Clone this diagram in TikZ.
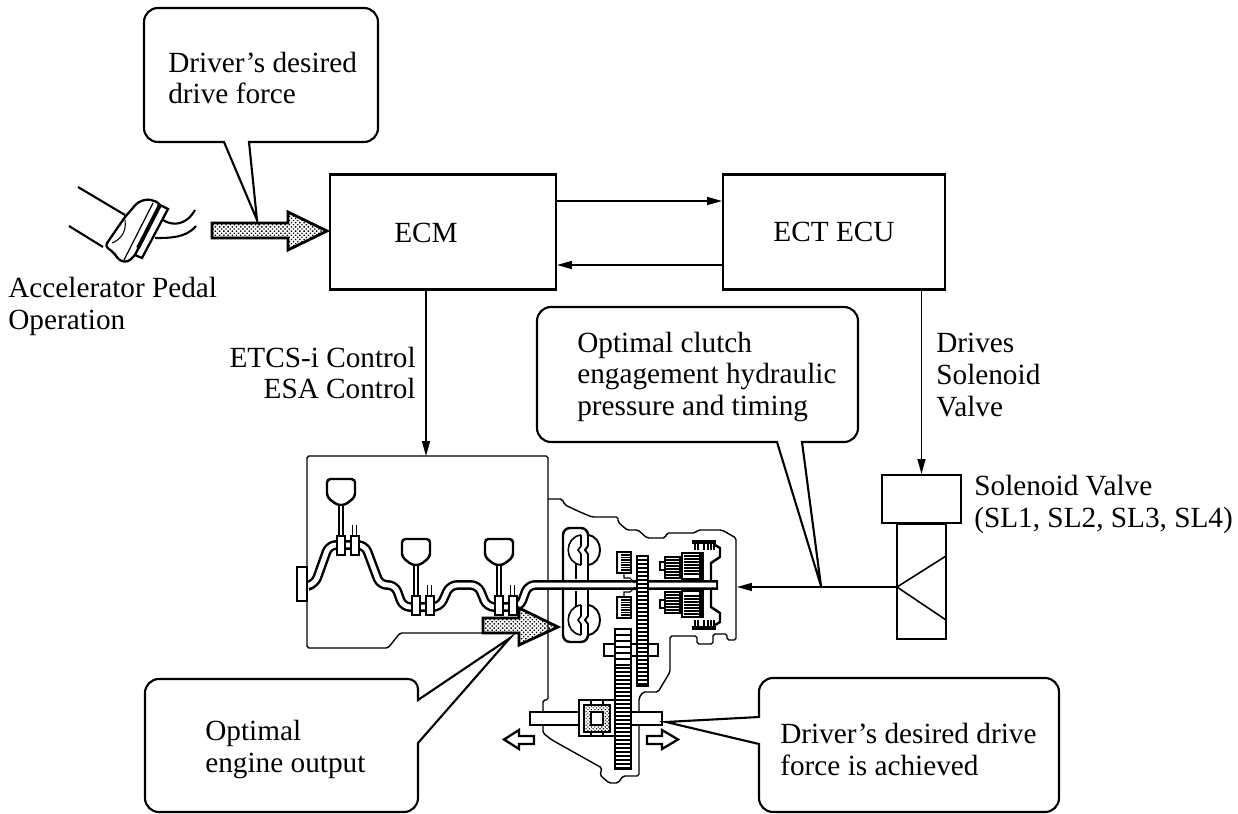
\documentclass[tikz,border=0pt]{standalone}
\usepackage{fontspec}
\setmainfont{Liberation Serif}
\usetikzlibrary{arrows.meta,calc,patterns.meta}
\tikzset{
  flow/.style={-{Stealth[length=8.5pt,width=4.6pt,inset=0pt]}, line width=0.7pt},
  ctrl box/.style={draw, line width=1.2pt, inner sep=0pt, fill=white},
  label text/.style={inner sep=0pt, align=left, anchor=west, font=\fontsize{16.65}{18.2}\selectfont},
  callout/.style={draw, line width=1.2pt, fill=white},
  fat arrow/.style={draw, line width=1.6pt, pattern={Dots[distance=1.7pt,radius=0.55pt,angle=45]}},
  open arrow/.style={draw, line width=1.3pt, fill=white},
  part/.style={draw, line width=1.4pt, fill=white},
  thin part/.style={line width=0.6pt},
  pipe out/.style={line width=5.6pt, line join=round, rounded corners=4pt},
  pipe in/.style={line width=2.8pt, white, line join=round, rounded corners=4pt},
}
\begin{document}
\begin{tikzpicture}[x=0.02cm, y=-0.02cm]
  \useasboundingbox (0,0) rectangle (1238,814);

  % Control units
  \node[ctrl box, minimum width=4.52cm, minimum height=2.3cm] (ecm) at (443,232) {};
  \node[label text] (ecmname) at (394,233) {ECM};
  \node[ctrl box, minimum width=4.44cm, minimum height=2.3cm, font=\fontsize{16.65}{18.2}\selectfont] (ecu) at (834,232) {ECT ECU};
  \draw[flow] ($(ecm.east)+(0,-31)$) -- ($(ecu.west)+(0,-31)$);
  \draw[flow] ($(ecu.west)+(0,33)$) -- ($(ecm.east)+(0,33)$);

  % Solenoid valve
  \node[ctrl box, minimum width=0.98cm, minimum height=2.3cm, anchor=north] (valvebody) at (921.5,523) {};
  \node[ctrl box, minimum width=1.58cm, minimum height=0.96cm] (valvetop) at (921.5,499) {};
  \coordinate (valveport) at (897,587);
  \coordinate (caseport) at (737,587);
  \draw[thin part, line width=0.9pt] (946,556) -- (valveport) -- (946,620);
  \draw[flow] (valveport) -- (caseport);
  \draw[flow] (valvetop.north |- ecu.south) -- (valvetop.north);

  % Engine outline and transmission case
  \coordinate (enginetop) at (426,456);
  \draw[thin part, line width=0.8pt, rounded corners=1pt] (483,633) -- (400,633) -- (388,648) -- (307,648) -- (307,456) -- (548,456) -- (548,700) -- (543,700) -- (543,733) -- (552,740) -- (602,768) -- (600,775) -- (609,783) -- (618,783) -- (623,776) -- (639,776) -- (639,698) -- (643,692) -- (658,692) -- (670,672) -- (670,636) -- (697,636) -- (697,644) -- (713,644) -- (713,634) -- (727,634) -- (727,640) -- (736,640) -- (736,538) -- (722,530) -- (698,530) -- (695,533) -- (667,533) -- (665,538) -- (647,538) -- (638,530) -- (627,530) -- (618,522) -- (618,517) -- (592,517) -- (580,512) -- (565,505) -- (562,499) -- (548,499);
  \draw[flow] (ecm.south -| enginetop) -- (enginetop);

  % Exhaust pipe and main shaft
  \draw[pipe out] (308,586) -- (315,584) -- (329,545) -- (365,545) -- (380,585) -- (395,585) -- (403,607) -- (440,607) -- (450,585) -- (478,585) -- (487,607) -- (520,607) -- (528,585) -- (718,585);
  \draw[pipe in] (306,586) -- (315,584) -- (329,545) -- (365,545) -- (380,585) -- (395,585) -- (403,607) -- (440,607) -- (450,585) -- (478,585) -- (487,607) -- (520,607) -- (528,585) -- (716,585);
  \draw[part] (297,567) rectangle (307,601);

  % Cylinders along the pipe
  \foreach \cx/\cy in {341/479, 416/539, 499/539} {
    \begin{scope}[shift={(\cx,\cy)}]
      \draw[part, rounded corners=2pt] (-14,0) -- (14,0) -- (14,18) -- (4,26) -- (-4,26) -- (-14,18) -- cycle;
      \draw[line width=3.6pt] (0,26) -- (0,58);
      \draw[line width=1.2pt, white] (0,27) -- (0,57);
      \draw[line width=1.1pt] (11.5,46) -- (11.5,57);
      \draw[line width=1.1pt] (15.5,46) -- (15.5,57);
      \draw[part] (-4,57) rectangle (4,76);
      \draw[part] (10,57) rectangle (18,76);
    \end{scope}
  }

  % Parts mirrored about the main shaft
  \foreach \s in {1,-1} {
    \begin{scope}[shift={(0,585)}, yscale=\s]
      % Torque converter lobes
      \draw[line width=1.1pt] (588,-50) .. controls (604,-48) and (604,-22) .. (588,-20);
      \draw[line width=0.9pt] (581,-50) .. controls (564,-48) and (564,-22) .. (581,-20);
      \draw[line width=0.9pt] (581,-50) -- (581,-39) -- (578,-35) -- (581,-31) -- (581,-20);
      \draw[line width=1.1pt] (588,-50) -- (588,-39) -- (585,-35) -- (588,-31) -- (588,-20);
      \draw[thin part] (576,-21) -- (576,-6);
      % Pump and pinion boxes
      \draw[part, line width=1.4pt] (617,-33) rectangle (631,-12);
      \foreach \ty in {-30,-27.5,...,-15} { \draw[line width=1pt] (621,\ty) -- (630,\ty); }
      \draw[thin part] (624,-12) -- (624,-7) -- (630,-7) -- (635,-2);
      % Planetary gears
      \draw[part] (660,-23) rectangle (666,-15);
      \draw[part] (665,-28) rectangle (680,-7);
      \foreach \ty in {-25,-22,...,-10} { \draw[thin part] (665,\ty) -- (680,\ty); }
      \draw[part, line width=1.7pt] (682,-32) rectangle (700,-6);
      \foreach \ty in {-29,-26,...,-9} { \draw[line width=1pt] (684,\ty) -- (699,\ty); }
      \draw[line width=1.2pt] (700,-32) -- (703,-32) -- (703,-5);
      % Clutch drum
      \draw[line width=1.4pt] (711,-5) -- (711,-22) -- (720,-28) -- (720,-37) -- (715,-40);
      \draw[line width=2.2pt] (692,-43) -- (716,-43);
      \foreach \tx in {695,698,704,708,711,714} { \draw[line width=0.9pt] (\tx,-43) -- (\tx,-35); }
    \end{scope}
  }
  \draw[line width=1.4pt, rounded corners=4pt] (563,581) -- (563,528) -- (588,528) -- (588,535);
  \draw[line width=1.4pt] (588,565) -- (588,581);
  \draw[line width=1.4pt, rounded corners=4pt] (563,589) -- (563,642) -- (588,642) -- (588,635);
  \draw[line width=1.4pt] (588,605) -- (588,589);

  % Gears and output shaft
  \draw[part] (604,644) rectangle (658,656);
  \draw[part] (637,556) rectangle (648,686);
  \foreach \ty in {560,564,...,684} { \draw[thin part] (638,\ty) -- (647,\ty); }
  \draw[part] (530,712) rectangle (662,725);
  \draw[part] (579,700) rectangle (615,736);
  \draw[thin part] (591,700) -- (591,705) (603,700) -- (603,705) (591,732) -- (591,736) (603,732) -- (603,736);
  \draw[part, line width=0.6pt, pattern={Dots[distance=1.4pt,radius=0.45pt,angle=45]}] (584,705) rectangle (610,732);
  \draw[part] (591,712) rectangle (603,725);
  \draw[part] (615,629) rectangle (631,769);
  \foreach \ty in {635,641,...,665} { \draw[thin part] (616,\ty) -- (630,\ty); }
  \draw[line width=1.4pt] (615,668) -- (631,668);
  \foreach \ty in {672,676,...,768} { \draw[thin part] (616,\ty) -- (630,\ty); }

  % Output direction arrows
  \draw[open arrow] (504,739.5) -- (519,730) -- (519,736) -- (534,736) -- (534,744) -- (519,744) -- (519,749) -- cycle;
  \draw[open arrow] (678,739.5) -- (662,730) -- (662,736) -- (647,736) -- (647,744) -- (662,744) -- (662,749) -- cycle;

  % Accelerator pedal and foot
  \draw[line width=1.2pt] (78,187) -- (125,215);
  \draw[line width=1.2pt] (69,226) -- (103,247);
  \draw[line width=1.3pt, fill=white, rounded corners=2pt] (105,246) -- (125,217) -- (138,202) -- (148,199) -- (160,203) -- (140,250) -- (128,262) -- (120,261) -- (113,252) -- cycle;
  \draw[thin part] (125,220) .. controls (127,232) and (120,240) .. (112,243);
  \draw[thin part, line width=0.7pt] (153,203) -- (124,260);
  \draw[line width=1.3pt, fill=white] (160,205) -- (168,209) -- (142,258) -- (135,255) -- cycle;
  \draw[line width=2.2pt] (160,205) -- (138,248);
  \draw[line width=1.2pt] (163,220) .. controls (172,226) and (186,226) .. (195,210);
  \draw[line width=1.2pt] (155,238) .. controls (170,238) and (186,238) .. (196,226);

  % Filled drive force arrows
  \draw[fat arrow, line join=miter] (212,223) -- (288,223) -- (288,212) -- (327,231) -- (288,250) -- (288,238) -- (212,238) -- cycle;
  \draw[fat arrow, line join=miter] (483,618) -- (519,618) -- (519,608) -- (558,627) -- (519,645) -- (519,633) -- (483,633) -- cycle;

  % Callouts
  \draw[callout] [rounded corners=0.28cm] (300,8) -- (378,8) -- (378,142) -- (270,142) [sharp corners] -- (249,142) -- (257,220) -- (224,142) -- (200,142) [rounded corners=0.28cm] -- (144,142) -- (144,8) -- cycle;
  \draw[callout] [rounded corners=0.28cm] (700,307) -- (858,307) -- (858,442) -- (820,442) [sharp corners] -- (802,442) -- (821,586) -- (777,442) -- (760,442) [rounded corners=0.28cm] -- (537,442) -- (537,307) -- cycle;
  \draw[callout] [rounded corners=0.2cm] (280,679) -- (418,679) [sharp corners] -- (418,700) -- (510,638) -- (418,743) -- (418,760) [rounded corners=0.28cm] -- (418,812) -- (145,812) -- (145,679) -- cycle;
  \draw[callout] [rounded corners=0.28cm] (900,812) -- (759,812) -- (759,760) [sharp corners] -- (759,744) -- (666,722) -- (759,717) -- (759,705) [rounded corners=0.28cm] -- (759,678) -- (1059,678) -- (1059,812) -- cycle;

  % Labels
  \node[label text] (desired) at (168,78) {Driver’s desired\\drive force};
  \node[label text] (pedal) at (8,306) {Accelerator Pedal\\Operation};
  \node[label text, align=right, anchor=east] (etcs) at (416,373) {ETCS-i Control\\ESA Control};
  \node[label text] (drives) at (936,375) {Drives\\Solenoid\\Valve};
  \node[label text] (slnames) at (974,504) {Solenoid Valve\\(SL1, SL2, SL3, SL4)};
  \node[label text] (clutch) at (577,377) {Optimal clutch\\engagement hydraulic\\pressure and timing};
  \node[label text] (output) at (205,749.5) {Optimal\\engine output};
  \node[label text] (achieved) at (780,749.5) {Driver’s desired drive\\force is achieved};
\end{tikzpicture}
\end{document}
